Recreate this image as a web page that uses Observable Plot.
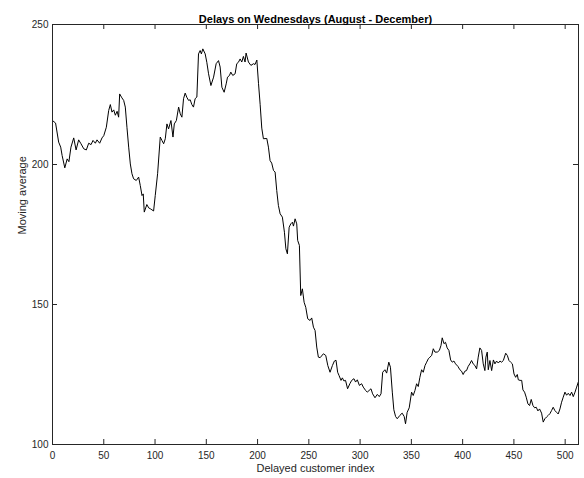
<!DOCTYPE html>
<html>
<head>
<meta charset="utf-8">
<script src="https://cdn.jsdelivr.net/npm/d3@7"></script>
<script src="https://cdn.jsdelivr.net/npm/@observablehq/plot@0.6"></script>
<style>
  html, body { margin: 0; padding: 0; background: #ffffff; }
  #chart svg { display: block; }
</style>
</head>
<body>
<div id="chart"></div>
<script>
const chartTitle = "Delays on Wednesdays (August - December)";
const xLabel = "Delayed customer index";
const yLabel = "Moving average";
const xTicks = [0, 50, 100, 150, 200, 250, 300, 350, 400, 450, 500];
const yTicks = [100, 150, 200, 250];

const customerIndex = [
  0, 3, 6, 8, 9.4, 12, 14.3, 16, 18, 20.7, 23, 25.5, 27.8, 30.5, 33, 35.3, 37.6, 39.5, 41.8, 43.4,
  46, 48.3, 50, 52.5, 54.8, 56.4, 58, 59.7, 61.3, 63, 64.5, 65.5, 67.7, 69.4, 71, 72.6, 74.3, 75.9, 77.5, 79.1,
  81.7, 84, 85.6, 87.3, 88.5, 89.5, 92, 93.8, 95.4, 97, 98.6, 100.2, 102.5, 105.1, 106.7, 108.4, 110, 111.6, 113.2, 115.5,
  117.5, 118.8, 120.8, 123, 124.6, 126.2, 127.8, 129.4, 131, 132.7, 134.3, 135.9, 137.5, 139.1, 140.8, 142.4, 144, 145.2, 146.6, 148.9,
  150.5, 152.2, 154.5, 157.1, 159.6, 161.9, 163.5, 165.2, 167.4, 169.4, 170.7, 172.6, 173.9, 175.8, 178.1, 179.7, 181.3, 183, 184.6, 186.2,
  187.8, 188.8, 191.1, 193.5, 196.1, 197.5, 199.3, 200.9, 202.5, 204.1, 205.7, 209, 210.6, 212.2, 213.8, 215.5, 217.1, 218.7, 220.3, 222,
  224.2, 226.2, 227.6, 229.1, 230.8, 232.4, 234, 235, 236.6, 238.2, 239.1, 240.8, 242.1, 243.7, 245.4, 247, 248.9, 251.2, 252.8, 254.5,
  256.1, 257.7, 259.3, 261, 264.2, 266.5, 268.5, 270.7, 273, 274.9, 276.5, 278.1, 279.5, 281.4, 282.7, 284.2, 285.8, 287.8, 290, 291.8,
  294, 295.6, 297.3, 299.3, 301.5, 303.1, 305.4, 307, 310.6, 312.2, 314.5, 316.8, 318.7, 320.4, 322, 324.2, 325.9, 328, 329.6, 331.4,
  332.9, 334.6, 336.2, 338.8, 341, 343, 344.3, 345.9, 347.9, 350.2, 351.8, 353.5, 355.1, 356.7, 358.3, 360, 361.6, 363.3, 364.9, 366.5,
  368.1, 369.8, 371.4, 373, 375.3, 377.3, 378.9, 380.1, 381.8, 383.3, 384.9, 386.6, 388.3, 389.9, 391.5, 393.1, 395.4, 397.3, 398.9, 400.5,
  402.2, 403.8, 405.4, 407, 408.7, 410.3, 412, 413.6, 415.2, 416.8, 418.5, 420.1, 421.7, 422.7, 424, 425, 426.6, 428.3, 430, 431.5,
  433.1, 434.8, 436.4, 438, 439.7, 442, 443.6, 445.2, 446.8, 448.5, 450.1, 451.7, 453.3, 454.3, 456, 457.6, 458.8, 460.4, 462, 463.7,
  465.3, 466.9, 468.6, 470.2, 471.8, 473.4, 475, 477, 478.6, 480.2, 481.8, 483.5, 485.1, 486.7, 488.3, 490, 491.6, 493.2, 494.9, 496.5,
  498.1, 499.8, 501.4, 503, 504.7, 506.3, 507.9, 509.6, 511.2, 512.8
];

const movingAverage = [
  215.7, 214.8, 208, 206.2, 203.2, 198.8, 202, 201, 206.2, 209.5, 205.2, 208.8, 207.4, 205.6, 205.2, 207.6, 207.1, 208.6, 207.6, 208.8,
  207.6, 209.5, 210.3, 213.3, 219.3, 221.4, 218.7, 219.5, 217.6, 219, 216.9, 225.2, 223.8, 222.9, 220.5, 213.3, 206.2, 200.2, 196.7, 194.9,
  194.3, 195.5, 192.5, 188.9, 189.5, 183, 185.7, 184.5, 184.2, 183.8, 183.4, 188.9, 196.7, 209.8, 208.6, 207.4, 209.2, 214.5, 212.7, 215.7,
  209.8, 214.5, 215.7, 220.5, 218.1, 216.9, 223.5, 225.5, 224, 222.9, 223.1, 221.4, 220.5, 223.5, 224.1, 239.5, 240.7, 239.5, 241.3, 239.5,
  236.5, 232.4, 228.2, 231.2, 236, 237.1, 234.8, 227.6, 225.8, 228.8, 231.2, 231.8, 233, 231.8, 232.4, 236, 236.5, 237.7, 236.6, 238.6,
  236.6, 239.8, 236.6, 235.4, 236, 235.7, 237.3, 229, 221.5, 213, 209.2, 209.3, 206.2, 201.4, 200.5, 197.9, 197.3, 190.7, 185.4, 182.4,
  181.2, 175.8, 169.9, 168.1, 177.6, 178.8, 179.4, 178, 180.6, 178.8, 172.9, 171.1, 153.2, 155.6, 150.8, 149, 144.9, 144.3, 145.2, 141.9,
  140.7, 134.8, 131.2, 131, 132.4, 131.8, 128.2, 125.8, 128.2, 129.8, 130.1, 125.8, 124.6, 122.9, 123.8, 122.7, 122.9, 119.9, 121.7, 122.9,
  123.5, 122.3, 123.1, 121.1, 121.7, 120.5, 119.3, 118.7, 119.9, 118.1, 116.7, 117.9, 117.1, 118.1, 125.8, 126.7, 125.5, 129.4, 127.6, 118.7,
  112.4, 110, 109.2, 110.4, 111.2, 110, 107.4, 111.5, 113.1, 118.7, 117.5, 119.3, 121.7, 120.7, 124, 126.7, 125.8, 128.2, 129.4, 130.6,
  131.2, 131.8, 134.2, 133, 133, 133.6, 135.4, 138.1, 136, 136.5, 134.5, 133.6, 130.2, 129.4, 129.8, 128.8, 127.9, 126.7, 126.2, 125,
  126.2, 126.4, 127.9, 128.8, 130, 128.8, 128.2, 127, 131.2, 134.5, 133.6, 128.8, 126.4, 131.2, 133, 126.7, 130, 126.4, 130.2, 128.8,
  129.8, 129.1, 129.8, 129.4, 130, 132.6, 131.8, 130, 129.4, 128.8, 125.2, 124, 125, 123.1, 122.9, 122.9, 119.5, 118.7, 116.9, 114.5,
  113.9, 116.1, 113.9, 113.1, 113.3, 112, 112.7, 111.2, 108, 109.2, 109.8, 110.4, 111, 112.1, 113.3, 112.1, 111.5, 110.9, 112.7, 115.1,
  116.9, 118.7, 117.6, 118.3, 117.5, 118.7, 117.1, 118.7, 120.5, 122.3
];

const points = customerIndex.map((x, i) => ({x, y: movingAverage[i]}));

const W = 584, H = 478;
const mL = 52, mR = 6, mT = 24, mB = 34;
const frameW = W - mL - mR, frameH = H - mT - mB;
const axisColor = "#262626";
const tickLen = 5;

const chart = Plot.plot({
  width: W,
  height: H,
  marginLeft: mL,
  marginRight: mR,
  marginTop: mT,
  marginBottom: mB,
  style: {
    fontFamily: "'Liberation Sans', Arial, Helvetica, sans-serif",
    fontSize: "10px",
    color: axisColor,
    background: "#ffffff",
    overflow: "visible"
  },
  x: {domain: [0, 513], label: null},
  y: {domain: [100, 250], label: null},
  marks: [
    Plot.line(points, {x: "x", y: "y", stroke: "#000000", strokeWidth: 1}),
    Plot.tickX(xTicks, {x: d => d, insetTop: frameH - tickLen, stroke: axisColor}),
    Plot.tickX(xTicks, {x: d => d, insetBottom: frameH - tickLen, stroke: axisColor}),
    Plot.tickY(yTicks, {y: d => d, insetRight: frameW - tickLen, stroke: axisColor}),
    Plot.tickY(yTicks, {y: d => d, insetLeft: frameW - tickLen, stroke: axisColor}),
    Plot.frame({stroke: axisColor, strokeWidth: 1}),
    Plot.axisX({ticks: xTicks, tickSize: 0, tickPadding: 7, label: null, tickFormat: d => String(d), fill: axisColor}),
    Plot.axisY({ticks: yTicks, tickSize: 0, tickPadding: 4, label: null, tickFormat: d => String(d), fill: axisColor}),
    Plot.text([chartTitle], {text: d => d, frameAnchor: "top", dy: -9, fontWeight: "bold", fontSize: 11, fill: "#000000"}),
    Plot.text([xLabel], {text: d => d, frameAnchor: "bottom", dy: 27, fontSize: 11, fill: axisColor}),
    Plot.text([yLabel], {text: d => d, frameAnchor: "left", dx: -30, rotate: -90, fontSize: 11, fill: axisColor})
  ]
});

document.getElementById("chart").appendChild(chart);
</script>
</body>
</html>
